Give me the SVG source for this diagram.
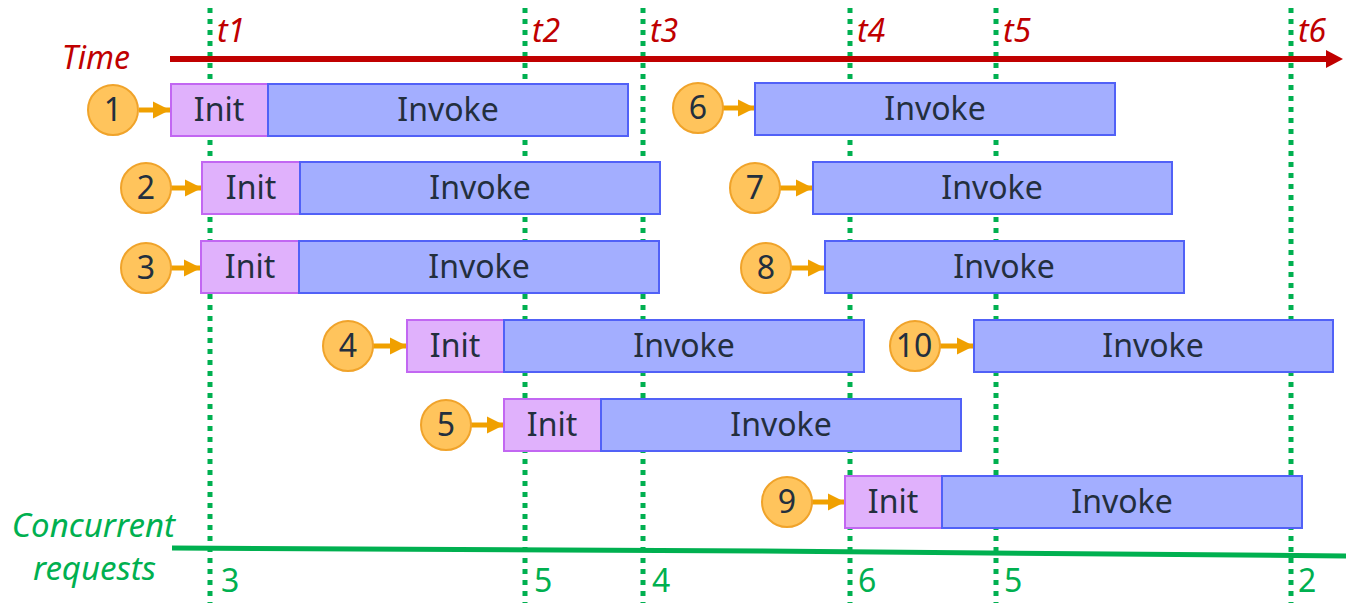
<svg xmlns="http://www.w3.org/2000/svg" width="1346" height="603" viewBox="0 0 1346 603">
<defs>
<style>
.init{fill:#E0B1FC;stroke:#C267F2;stroke-width:2}
.inv{fill:#A3AEFF;stroke:#5161F7;stroke-width:2}
.circ{fill:#FFC45C;stroke:#F0A32A;stroke-width:2}
.lbl{font-family:"Noto Sans","Open Sans",sans-serif;font-size:32px;fill:#232F3E;text-anchor:middle}
.num{font-family:"Noto Sans","Open Sans",sans-serif;font-size:32px;fill:#232F3E;text-anchor:middle}
.dot{stroke:#00B050;stroke-width:5;stroke-dasharray:5 6;fill:none}
.conn{stroke:#F0A000;stroke-width:5;fill:none}
.tl{font-family:"Noto Sans","Open Sans",sans-serif;font-style:italic;font-size:32px;fill:#C00000}
.cr{font-family:"Noto Sans","Open Sans",sans-serif;font-size:32px;fill:#00B050}
.gi{font-family:"Noto Sans","Open Sans",sans-serif;font-style:italic;font-size:33px;fill:#00B050}
</style>
<marker id="ah" viewBox="0 0 10 10" refX="10" refY="5" markerWidth="3.4" markerHeight="4" markerUnits="strokeWidth" orient="auto">
<path d="M0,0 L10,5 L0,10 Z" fill="#F0A000"/>
</marker>
</defs>
<rect width="1346" height="603" fill="#FFFFFF"/>
<g id="guides">
<line class="dot" x1="210" y1="8" x2="210" y2="603"/>
<line class="dot" x1="525" y1="8" x2="525" y2="603"/>
<line class="dot" x1="643" y1="8" x2="643" y2="603"/>
<line class="dot" x1="850" y1="8" x2="850" y2="603"/>
<line class="dot" x1="996" y1="8" x2="996" y2="603"/>
<line class="dot" x1="1291" y1="8" x2="1291" y2="603"/>
</g>
<g id="time-axis">
<line x1="170" y1="59" x2="1328" y2="59" stroke="#C00000" stroke-width="6"/>
<path d="M1326,50 L1343,59 L1326,68 Z" fill="#C00000"/>
<text class="tl" x="130" y="69" text-anchor="end" font-size="35">Time</text>
<text class="tl" x="217" y="42">t1</text>
<text class="tl" x="532" y="42">t2</text>
<text class="tl" x="650" y="42">t3</text>
<text class="tl" x="857" y="42">t4</text>
<text class="tl" x="1003" y="42">t5</text>
<text class="tl" x="1298" y="42">t6</text>
</g>
<g id="concurrency-axis">
<path d="M172,548 L760,551 L1346,556" stroke="#00B050" stroke-width="5" fill="none"/>
<text class="gi" x="175" y="537" text-anchor="end">Concurrent</text>
<text class="gi" x="156" y="580" text-anchor="end">requests</text>
<text class="cr" x="221" y="592">3</text>
<text class="cr" x="534" y="592">5</text>
<text class="cr" x="652" y="592">4</text>
<text class="cr" x="858" y="592">6</text>
<text class="cr" x="1004" y="592">5</text>
<text class="cr" x="1298" y="592">2</text>
</g>
<g id="connectors">
<line class="conn" x1="139" y1="110" x2="170" y2="110" marker-end="url(#ah)"/>
<line class="conn" x1="171" y1="188" x2="202" y2="188" marker-end="url(#ah)"/>
<line class="conn" x1="171" y1="268" x2="201" y2="268" marker-end="url(#ah)"/>
<line class="conn" x1="373" y1="346" x2="407" y2="346" marker-end="url(#ah)"/>
<line class="conn" x1="471" y1="425" x2="504" y2="425" marker-end="url(#ah)"/>
<line class="conn" x1="723" y1="108" x2="755" y2="108" marker-end="url(#ah)"/>
<line class="conn" x1="780" y1="188" x2="813" y2="188" marker-end="url(#ah)"/>
<line class="conn" x1="791" y1="268" x2="825" y2="268" marker-end="url(#ah)"/>
<line class="conn" x1="940" y1="346" x2="974" y2="346" marker-end="url(#ah)"/>
<line class="conn" x1="812" y1="502" x2="845" y2="502" marker-end="url(#ah)"/>
</g>
<g id="req1">
<circle class="circ" cx="113" cy="110" r="25"/><text class="num" x="113" y="121">1</text>
<rect class="init" x="171" y="84" width="97" height="52"/><text class="lbl" x="219" y="121">Init</text>
<rect class="inv" x="268" y="84" width="360" height="52"/><text class="lbl" x="448" y="121">Invoke</text>
</g>
<g id="req2">
<circle class="circ" cx="146" cy="188" r="25"/><text class="num" x="146" y="199">2</text>
<rect class="init" x="202" y="162" width="98" height="52"/><text class="lbl" x="251" y="199">Init</text>
<rect class="inv" x="300" y="162" width="360" height="52"/><text class="lbl" x="480" y="199">Invoke</text>
</g>
<g id="req3">
<circle class="circ" cx="146" cy="268" r="25"/><text class="num" x="146" y="279">3</text>
<rect class="init" x="201" y="241" width="98" height="52"/><text class="lbl" x="250" y="278">Init</text>
<rect class="inv" x="299" y="241" width="360" height="52"/><text class="lbl" x="479" y="278">Invoke</text>
</g>
<g id="req4">
<circle class="circ" cx="348" cy="346" r="25"/><text class="num" x="348" y="357">4</text>
<rect class="init" x="407" y="320" width="97" height="52"/><text class="lbl" x="455" y="357">Init</text>
<rect class="inv" x="504" y="320" width="360" height="52"/><text class="lbl" x="684" y="357">Invoke</text>
</g>
<g id="req5">
<circle class="circ" cx="446" cy="425" r="25"/><text class="num" x="446" y="436">5</text>
<rect class="init" x="504" y="399" width="97" height="52"/><text class="lbl" x="552" y="436">Init</text>
<rect class="inv" x="601" y="399" width="360" height="52"/><text class="lbl" x="781" y="436">Invoke</text>
</g>
<g id="req6">
<circle class="circ" cx="698" cy="108" r="25"/><text class="num" x="698" y="119">6</text>
<rect class="inv" x="755" y="83" width="360" height="52"/><text class="lbl" x="935" y="120">Invoke</text>
</g>
<g id="req7">
<circle class="circ" cx="755" cy="188" r="25"/><text class="num" x="755" y="199">7</text>
<rect class="inv" x="813" y="162" width="359" height="52"/><text class="lbl" x="992" y="199">Invoke</text>
</g>
<g id="req8">
<circle class="circ" cx="766" cy="268" r="25"/><text class="num" x="766" y="279">8</text>
<rect class="inv" x="825" y="241" width="359" height="52"/><text class="lbl" x="1004" y="278">Invoke</text>
</g>
<g id="req10">
<circle class="circ" cx="915" cy="346" r="25"/><text class="num" x="914" y="357" font-size="30">10</text>
<rect class="inv" x="974" y="320" width="359" height="52"/><text class="lbl" x="1153" y="357">Invoke</text>
</g>
<g id="req9">
<circle class="circ" cx="787" cy="502" r="25"/><text class="num" x="787" y="513">9</text>
<rect class="init" x="845" y="476" width="97" height="52"/><text class="lbl" x="893" y="513">Init</text>
<rect class="inv" x="942" y="476" width="360" height="52"/><text class="lbl" x="1122" y="513">Invoke</text>
</g>
</svg>
